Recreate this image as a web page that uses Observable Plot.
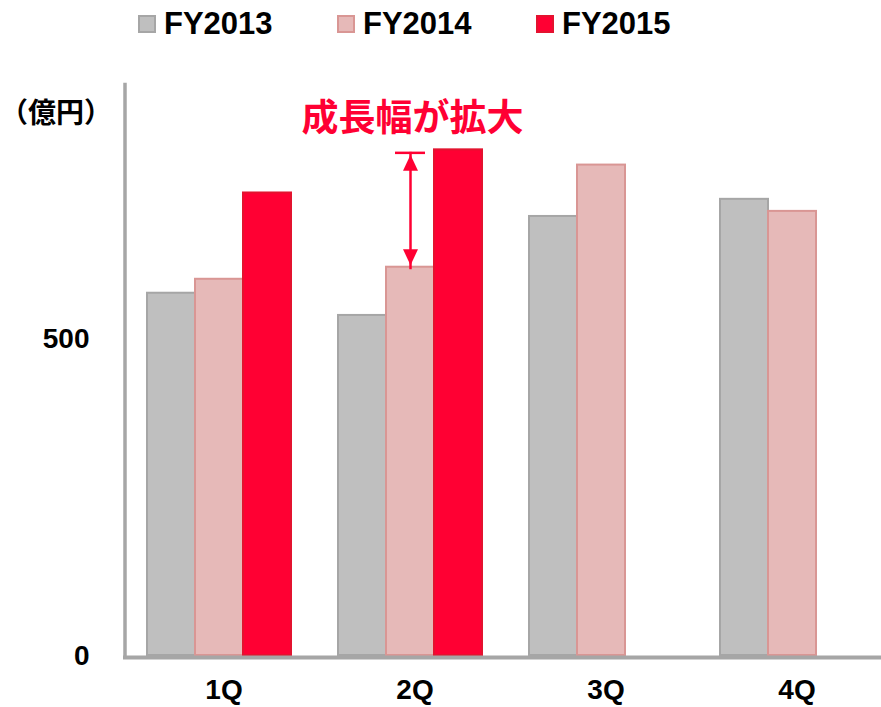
<!DOCTYPE html>
<html>
<head>
<meta charset="utf-8">
<script src="https://cdn.jsdelivr.net/npm/d3@7"></script>
<script src="https://cdn.jsdelivr.net/npm/@observablehq/plot@0.6"></script>
<style>
  html, body { margin: 0; padding: 0; background: #fff; overflow: hidden; }
  #wrap { position: relative; width: 881px; height: 707px; }
  #legend { position: absolute; left: 0; top: 0; width: 881px; height: 60px; z-index: 2; }
  .item { position: absolute; top: 0; height: 48px; display: flex; align-items: center;
          font-family: "Liberation Sans", Arial, sans-serif; font-weight: bold; font-size: 31px; color: #000; }
  .sw { width: 14px; height: 14px; border: 2px solid; margin-right: 8px; }
  #unit { position: absolute; left: 0px; top: 97px; font-family: "Noto Sans CJK JP", sans-serif;
          font-weight: bold; font-size: 28px; line-height: 1; color: #000; z-index: 2; white-space: nowrap; }
  #chart { position: absolute; left: 0; top: 60px; width: 887px; z-index: 1; }
</style>
</head>
<body>
<div id="wrap">
  <div id="legend"></div>
  <div id="chart"></div>
  <div id="unit"></div>
</div>
<script>
// ---- data ----
const quarters = ["1Q", "2Q", "3Q", "4Q"];
const years = ["FY2013", "FY2014", "FY2015"];
const fy2013 = [571, 536, 692, 719];
const fy2014 = [593, 612, 773, 700];
const fy2015 = [729, 797, null, null];
const yTicks = [0, 500];
const unitLabel = "（億円）";
const annotationText = "成長幅が拡大";

// ---- styles ----
const fills = ["#bfbfbf", "#e6b9b8", "#ff0033"];
const strokes = ["#a6a6a6", "#d99694", "#e3132f"];
const red = "#ff0033";
const axisGray = "#a6a6a6";

const series = [fy2013, fy2014, fy2015];
const data = quarters.flatMap((q, i) =>
  years.map((yr, j) => ({q, year: yr, value: series[j][i]}))
).filter(d => d.value != null);

// annotation: growth gap in 2Q between FY2014 and FY2015
const qi = quarters.indexOf("2Q");
const annot = [{q: "2Q", year: "FY2014", from: fy2014[qi], to: fy2015[qi], label: annotationText}];

// custom triangle symbols (tall arrowheads)
const triUp = {draw(ctx, size) {
  const w = 7.5, h = 16;
  ctx.moveTo(0, -h / 2); ctx.lineTo(w, h / 2); ctx.lineTo(-w, h / 2); ctx.closePath();
}};
const triDown = {draw(ctx, size) {
  const w = 7.5, h = 16;
  ctx.moveTo(0, h / 2); ctx.lineTo(w, -h / 2); ctx.lineTo(-w, -h / 2); ctx.closePath();
}};

// legend
const legend = document.getElementById("legend");
const legendLeft = [138, 337, 536];
years.forEach((yr, j) => {
  const it = document.createElement("div");
  it.className = "item";
  it.style.left = legendLeft[j] + "px";
  const sw = document.createElement("div");
  sw.className = "sw";
  sw.style.background = fills[j];
  sw.style.borderColor = strokes[j];
  const tx = document.createElement("span");
  tx.textContent = yr;
  it.appendChild(sw); it.appendChild(tx);
  legend.appendChild(it);
});
document.getElementById("unit").textContent = unitLabel;

const chart = Plot.plot({
  width: 887,
  height: 647,
  marginLeft: 122,
  marginRight: 0,
  marginTop: 24,
  marginBottom: 52,
  style: {fontFamily: "'Liberation Sans', Arial, sans-serif", background: "transparent", overflow: "visible", maxWidth: "none"},
  fx: {domain: quarters, padding: 0, axis: null},
  x: {domain: years, paddingInner: 0, paddingOuter: 0.464, axis: null},
  y: {domain: [0, 900], axis: null},
  marks: [
    ...years.map((yr, j) => Plot.barY(data.filter(d => d.year === yr), {
      fx: "q", x: "year", y: "value",
      fill: fills[j], stroke: strokes[j], strokeWidth: 2
    })),
    Plot.ruleY([0], {stroke: axisGray, strokeWidth: 4, dy: 2}),
    Plot.frame({anchor: "left", facetAnchor: "left", stroke: axisGray, strokeWidth: 3.5, dx: 1.5}),
    Plot.axisY(yTicks, {tickSize: 0, tickPadding: 34, fontSize: 28, fontWeight: "bold", fill: "#000", dy: 1}),
    Plot.axisFx({anchor: "bottom", tickSize: 0, tickPadding: 24, fontSize: 28, fontWeight: "bold", fill: "#000", dx: 5, label: null}),
    // annotation
    Plot.link(annot, {fx: "q", x1: "year", x2: "year", y1: "from", y2: "to", stroke: red, strokeWidth: 2.5, dy: 2}),
    Plot.tickY(annot, {fx: "q", x: "year", y: "to", stroke: red, strokeWidth: 2.5, inset: 9, dy: 3}),
    Plot.dot(annot, {fx: "q", x: "year", y: "to", symbol: triUp, r: 6, fill: red, stroke: "none", dy: 13}),
    Plot.dot(annot, {fx: "q", x: "year", y: "from", symbol: triDown, r: 6, fill: red, stroke: "none", dy: -10}),
    Plot.text(annot, {fx: "q", x: "year", y: "to", text: "label", dy: -31, dx: 2,
      fontSize: 37, fontWeight: "bold", fill: red, fontFamily: "'Noto Sans CJK JP', sans-serif"})
  ]
});
document.getElementById("chart").appendChild(chart);
</script>
</body>
</html>
